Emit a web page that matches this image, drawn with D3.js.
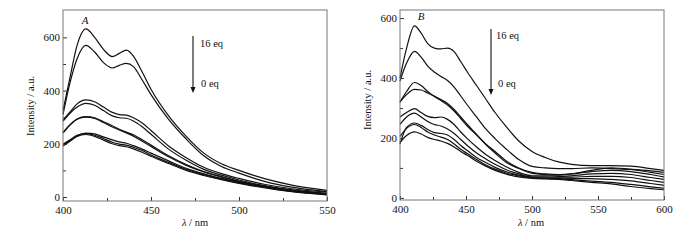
<!DOCTYPE html>
<html><head><meta charset="utf-8">
<script src="https://cdn.jsdelivr.net/npm/d3@7"></script>
<style>body{margin:0;background:#fff}svg{display:block}text{font-family:"Liberation Serif","DejaVu Serif",serif;fill:#111}</style>
</head><body><svg id="c" width="700" height="240"></svg>
<script>
// Panel A data
const wavelengthsA = [400,404,408,413,418,423,428,432,436,440,445,450,460,470,480,490,500,515,530,550];
const A16 = [325,450,570,632,600,555,528,540,552,530,470,405,305,228,165,125,100,68,45,25];
const A14 = [310,430,520,570,545,505,485,495,502,490,440,385,292,218,155,115,90,58,37,20];
const A12 = [290,320,350,365,358,338,318,310,308,298,278,250,192,148,112,88,70,47,31,18];
const A10 = [285,315,338,352,345,325,305,298,296,286,264,236,180,138,104,82,64,42,27,14];
const A8  = [240,270,293,302,298,283,268,255,244,234,215,195,155,122,96,77,60,41,25,12];
const A6  = [243,272,292,300,295,280,263,252,241,229,210,190,151,119,94,75,58,39,24,11];
const A4  = [195,212,230,240,237,226,215,207,202,193,180,165,136,108,87,70,55,37,22,10];
const A2  = [198,215,232,238,232,220,206,199,195,187,175,158,130,104,84,67,53,36,21,9];
const A0  = [192,210,228,235,228,214,200,193,189,181,168,153,126,100,81,65,51,34,20,8];
// Panel B data
const wavelengthsB = [400,405,411,416,421,426,431,436,441,446,451,458,465,472,480,490,500,510,520,530,545,560,575,590,600];
const B16 = [400,500,574,550,515,500,497,500,488,455,420,375,330,285,240,190,155,135,120,112,108,108,106,98,92];
const B14 = [390,450,489,470,440,420,405,392,370,340,310,270,230,198,165,128,105,100,98,98,100,98,95,90,85];
const B12 = [320,355,385,375,355,338,325,310,290,265,240,210,180,155,125,100,85,80,78,80,92,100,95,85,78];
const B10 = [320,345,362,360,350,340,328,315,295,270,245,212,178,150,120,98,82,78,76,80,88,92,88,78,70];
const B8  = [270,285,298,285,272,268,270,262,245,220,198,170,145,125,105,85,74,74,72,74,80,82,78,68,62];
const B6  = [245,270,283,270,255,245,240,230,215,195,175,150,130,112,95,80,70,70,69,69,72,72,68,58,52];
const B4  = [180,235,250,242,228,218,215,210,195,175,158,135,118,102,88,76,69,67,66,65,64,62,57,48,42];
const B2  = [205,232,245,235,220,210,203,195,180,162,148,128,110,96,84,73,67,65,64,61,56,52,45,37,32];
const B0  = [185,208,220,213,202,195,190,182,170,155,142,122,106,92,80,70,65,63,62,58,52,47,38,31,27];

const xTicksA = [400,450,500,550], xMinorA = [425,475,525];
const xTicksB = [400,450,500,550,600], xMinorB = [425,475,525,575];
const yTicks = [0,200,400,600], yMinor = [100,300,500];

const svg = d3.select("#c");

function panel(cfg){
  const g = svg.append("g");
  const x = d3.scaleLinear().domain(cfg.xd).range(cfg.xr);
  const y = d3.scaleLinear().domain(cfg.yd).range(cfg.yr);
  const line = d3.line().x((d,i)=>x(cfg.wl[i])).y(d=>y(d)).curve(d3.curveMonotoneX);
  cfg.series.forEach(s=>{
    g.append("path").datum(s).attr("d",line).attr("fill","none").attr("stroke","#111").attr("stroke-width",1.2);
  });
  const xa = g.append("g").attr("transform",`translate(0,${cfg.yr[0]})`)
    .call(d3.axisBottom(x).tickValues(cfg.xt).tickFormat(d3.format("d")).tickSizeInner(-4).tickSizeOuter(0).tickPadding(5));
  const xm = g.append("g").attr("transform",`translate(0,${cfg.yr[0]})`)
    .call(d3.axisBottom(x).tickValues(cfg.xm).tickFormat("").tickSizeInner(-3).tickSizeOuter(0));
  const ya = g.append("g").attr("transform",`translate(${cfg.xr[0]},0)`)
    .call(d3.axisLeft(y).tickValues(yTicks).tickFormat(d3.format("d")).tickSizeInner(-4).tickSizeOuter(0).tickPadding(3));
  const ym = g.append("g").attr("transform",`translate(${cfg.xr[0]},0)`)
    .call(d3.axisLeft(y).tickValues(yMinor).tickFormat("").tickSizeInner(-3).tickSizeOuter(0));
  [xa,xm,ya,ym].forEach(a=>{
    a.select(".domain").remove();
    a.selectAll("line").attr("stroke","#333");
    a.selectAll("text").style("font-size","11px").style("font-family","Liberation Serif").attr("fill","#111");
  });
  g.append("rect").attr("x",cfg.xr[0]).attr("y",cfg.yr[1]).attr("width",cfg.xr[1]-cfg.xr[0]).attr("height",cfg.yr[0]-cfg.yr[1])
    .attr("fill","none").attr("stroke","#777").attr("stroke-width",1);
  g.append("text").attr("transform",`translate(${cfg.ylx},${cfg.yly}) rotate(-90)`).attr("text-anchor","middle")
    .attr("dominant-baseline","central").style("font-size","10.5px").text("Intensity / a.u.");
  const xl = g.append("text").attr("x",cfg.xlx).attr("y",226).attr("text-anchor","middle").style("font-size","10.5px");
  xl.append("tspan").style("font-style","italic").text("λ");
  xl.append("tspan").text(" / nm");
  g.append("text").attr("x",cfg.lab[0]).attr("y",cfg.lab[1]).attr("text-anchor","middle").style("font-style","italic").style("font-size","11px").text(cfg.label);
  g.append("line").attr("x1",cfg.ar[0]).attr("x2",cfg.ar[0]).attr("y1",cfg.ar[1]).attr("y2",cfg.ar[2]-4).attr("stroke","#111").attr("stroke-width",1.1);
  g.append("path").attr("d",`M${cfg.ar[0]-2.5},${cfg.ar[2]-6}L${cfg.ar[0]+2.5},${cfg.ar[2]-6}L${cfg.ar[0]},${cfg.ar[2]}Z`).attr("fill","#111");
  g.append("text").attr("x",cfg.t16[0]).attr("y",cfg.t16[1]).attr("dominant-baseline","central").style("font-size","10.5px").text("16 eq");
  g.append("text").attr("x",cfg.t0[0]).attr("y",cfg.t0[1]).attr("dominant-baseline","central").style("font-size","10.5px").text("0 eq");
}

panel({xd:[400,550], xr:[63,327], yd:[-15,703], yr:[201,10], wl:wavelengthsA,
  series:[A16,A14,A12,A10,A8,A6,A4,A2,A0], xt:xTicksA, xm:xMinorA,
  ylx:30, yly:106, xlx:195, lab:[85,24], label:"A", ar:[193,36,93], t16:[200,43], t0:[201,83]});
panel({xd:[400,600], xr:[400,664], yd:[-7,627], yr:[200,10], wl:wavelengthsB,
  series:[B16,B14,B12,B10,B8,B6,B4,B2,B0], xt:xTicksB, xm:xMinorB,
  ylx:367, yly:100, xlx:531, lab:[421,20], label:"B", ar:[491,29,95], t16:[496,35], t0:[498,83]});
</script></body></html>
